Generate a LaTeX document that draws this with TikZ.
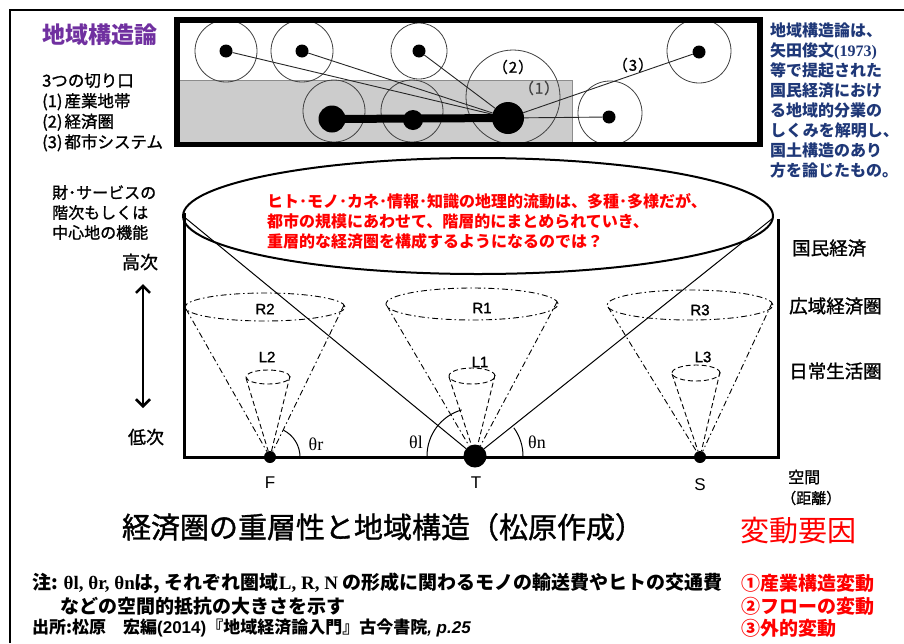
\documentclass[tikz,border=0pt]{standalone}
\usepackage{fontspec}
\setmainfont{Noto Sans CJK JP}
\newfontfamily\jpm[FakeBold=1.2]{Noto Sans CJK JP}
\newfontfamily\arialf{Liberation Sans}
\newfontfamily\arialm[FakeBold=1.5]{Liberation Sans}
\newfontfamily\tnr{Liberation Serif}
\usetikzlibrary{arrows.meta}
\definecolor{ttlpurple}{RGB}{112,48,160}
\definecolor{navyb}{RGB}{31,56,120}
\newcommand\fsz[2]{\fontsize{#1}{#2}\selectfont}
\begin{document}
\begin{tikzpicture}[x=1pt,y=-1pt,
  dot/.style={circle,fill=black,inner sep=0pt},
  ring/.style={draw=black!75,line width=0.8pt},
  link/.style={draw=black!85,line width=0.9pt},
  rcone/.style={line width=0.9pt,dash pattern=on 6pt off 3pt on 1.5pt off 3pt},
  lcone/.style={line width=0.9pt,dash pattern=on 5pt off 3pt},
  txt/.style={inner sep=0pt},
  lab/.style={inner sep=0pt,font=\arialm\fsz{15}{15}},
  ptlab/.style={inner sep=0pt,font=\arialf\fsz{17}{17}},
  ang/.style={inner sep=0pt,font=\tnr\fsz{18}{18}},
  rlab/.style={inner sep=0pt,anchor=west,font=\jpm\fsz{18.5}{18.5}}]
\useasboundingbox (0,0) rectangle (904,643);
\fill[white] (0,0) rectangle (904,643);
% outer frame
\draw[line width=2.5pt] (10,643) -- (10,10) -- (904,10);

% ---------- top box ----------
\fill[black!20] (180,80) rectangle (572,142);
\draw[black!45,line width=0.6pt] (180,80) -- (572,80) -- (572,142);
\draw[ring] (226,51) circle[radius=31pt];
\draw[ring] (302,51) circle[radius=31pt];
\draw[ring] (419,51) circle[radius=28pt];
\draw[ring] (334,111) circle[radius=31pt];
\draw[ring] (412,111) circle[radius=31pt];
\draw[ring] (513,97) circle[radius=47pt];
\draw[ring] (610,113) circle[radius=32pt];
\draw[ring] (699,51) circle[radius=32pt];
\node[dot,minimum size=13pt] (c1) at (226,51) {};
\node[dot,minimum size=13pt] (c2) at (302,51) {};
\node[dot,minimum size=13pt] (c3) at (419,51) {};
\node[dot,minimum size=32pt] (big) at (508,118) {};
\node[dot,minimum size=27pt] (m1) at (332,119) {};
\node[dot,minimum size=20pt] (m2) at (413,120) {};
\node[dot,minimum size=13pt] (d1) at (609,117) {};
\node[dot,minimum size=13pt] (d2) at (699,52) {};
\draw[link] (c1) -- (big);
\draw[link] (c2) -- (big);
\draw[link] (c3) -- (big);
\draw[link] (big) -- (d1);
\draw[link] (big) -- (d2);
\draw[line width=8pt] (m1.center) -- (big.center);
\draw[line width=5.5pt] (177,20) rectangle (760,144.5);
\node[txt,font=\jpm\fsz{15}{15}] (n2) at (513,67) {（\kern1pt2\kern1pt）};
\node[txt,font=\jpm\fsz{15}{15},text=black!75] (n1) at (539,88) {（\kern1pt1\kern1pt）};
\node[txt,font=\jpm\fsz{15}{15}] (n3) at (633,65) {（\kern1pt3\kern1pt）};

% title + list
\node[txt,anchor=west,font=\fsz{23}{23}\bfseries,text=ttlpurple] (ttl) at (42,35) {地域構造論};
\node[txt,anchor=north west,align=left,font=\jpm\fsz{16.5}{20.5}] (lst) at (42,73)
  {3つの切り口\\(1)\kern2pt産業地帯\\(2)\kern2pt経済圏\\(3)\kern2pt都市システム};
\node[txt,anchor=north west,align=left,font=\fsz{16}{20}\bfseries,text=navyb] (expl) at (770,23)
  {地域構造論は、\\矢田俊文{\tnr\bfseries(1973)}\\等で提起された\\国民経済におけ\\る地域的分業の\\しくみを解明し、\\国土構造のあり\\方を論じたもの。};

% ---------- cylinder ----------
\draw[line width=2pt] (478,216) ellipse[x radius=295pt,y radius=58pt];
\coordinate (eL) at (183,216);
\coordinate (eR) at (773,218);
\draw[line width=3pt] (184,213) -- (184,457) -- (778,457) -- (778,219);
\node[txt,anchor=west,align=left,font=\fsz{16}{20}\bfseries,text=red] (q) at (267,221)
  {ヒト･モノ･カネ･情報･知識の地理的流動は、多種･多様だが、\\都市の規模にあわせて、階層的にまとめられていき、\\重層的な経済圏を構成するようになるのでは？};

% points
\node[dot,minimum size=12pt] (F) at (270,457) {};
\node[dot,minimum size=23pt] (T) at (475,456) {};
\node[dot,minimum size=12pt] (S) at (700,457) {};
\draw[line width=1pt] (eL) -- (T);
\draw[line width=1pt] (eR) -- (T);

% cones R2/L2 at F
\draw[rcone] (265,307) ellipse[x radius=80pt,y radius=14pt];
\coordinate (r2a) at (186,309); \coordinate (r2b) at (344,305);
\draw[rcone] (r2a) -- (F); \draw[rcone] (r2b) -- (F);
\draw[lcone] (268,377) ellipse[x radius=22pt,y radius=7pt];
\coordinate (l2a) at (246,378); \coordinate (l2b) at (290,376);
\draw[lcone] (l2a) -- (F); \draw[lcone] (l2b) -- (F);
% cones R1/L1 at T
\draw[rcone] (472,304) ellipse[x radius=86pt,y radius=16pt];
\coordinate (r1a) at (387,306); \coordinate (r1b) at (557,302);
\draw[rcone] (r1a) -- (T); \draw[rcone] (r1b) -- (T);
\draw[lcone] (472,376) ellipse[x radius=23pt,y radius=8pt];
\coordinate (l1a) at (449,377); \coordinate (l1b) at (495,375);
\draw[lcone] (l1a) -- (T); \draw[lcone] (l1b) -- (T);
% cones R3/L3 at S
\draw[rcone] (690,305) ellipse[x radius=83pt,y radius=15pt];
\coordinate (r3a) at (608,307); \coordinate (r3b) at (772,303);
\draw[rcone] (r3a) -- (S); \draw[rcone] (r3b) -- (S);
\draw[lcone] (696,373) ellipse[x radius=24pt,y radius=8pt];
\coordinate (l3a) at (672,374); \coordinate (l3b) at (720,372);
\draw[lcone] (l3a) -- (S); \draw[lcone] (l3b) -- (S);

\node[lab] (R2) at (265,309) {R2};
\node[lab] (L2) at (267,357) {L2};
\node[lab] (R1) at (482,308) {R1};
\node[lab] (L1) at (480,362) {L1};
\node[lab] (R3) at (700,310) {R3};
\node[lab] (L3) at (703,357) {L3};
\node[ptlab] (Fl) at (270,483) {F};
\node[ptlab] (Tl) at (476,483) {T};
\node[ptlab] (Sl) at (700,485) {S};

% angles
\draw[line width=1pt] ([shift={(0:30pt)}]F.center) arc[start angle=0,end angle=63,radius=30pt];
\draw[line width=1pt] ([shift={(180:48pt)}]T.center) arc[start angle=180,end angle=106,radius=48pt];
\draw[line width=1pt] ([shift={(0:48pt)}]T.center) arc[start angle=0,end angle=36,radius=48pt];
\node[ang] (thr) at (316,444) {θr};
\node[ang] (thl) at (416,442) {θl};
\node[ang] (thn) at (537,442) {θn};

% left labels
\node[txt,anchor=north west,align=left,font=\jpm\fsz{16}{20}] (func) at (52,185)
  {財･サービスの\\階次もしくは\\中心地の機能};
\node[txt,font=\jpm\fsz{18}{18}] (hi) at (140,262) {高次};
\node[txt,font=\jpm\fsz{18}{18}] (lo) at (146,437) {低次};
\coordinate (arT) at (143,284);
\coordinate (arB) at (143,408);
\draw[line width=2.6pt,{Straight Barb[length=7pt,width=14pt]}-{Straight Barb[length=7pt,width=14pt]}] (arT) -- (arB);

% right labels
\node[rlab] (kn) at (792,248) {国民経済};
\node[rlab] (kw) at (789,306) {広域経済圏};
\node[rlab] (nj) at (789,371) {日常生活圏};
\node[txt,anchor=west,font=\jpm\fsz{16}{16}] (sp) at (788,477) {空間};
\node[txt,anchor=west,font=\jpm\fsz{15}{15}] (ds) at (781,498) {（距離）};

% bottom
\node[txt,font=\jpm\fsz{29}{29}] (main) at (383,527) {経済圏の重層性と地域構造（松原作成）};
\node[txt,font=\fsz{29}{29},text=red] (hen) at (798,531) {変動要因};
\node[txt,anchor=west,font=\fsz{19}{19}\bfseries] (note1) at (32,583)
  {注: {\tnr\bfseries θl, θr, θn}は, それぞれ圏域{\tnr\bfseries L, R, N} の形成に関わるモノの輸送費やヒトの交通費};
\node[txt,anchor=west,font=\fsz{19}{19}\bfseries] (note2) at (60,606) {などの空間的抵抗の大きさを示す};
\node[txt,anchor=west,font=\fsz{17}{17}\bfseries] (src) at (32,628)
  {出所:松原　宏編{\arialf\bfseries(2014)}『地域経済論入門』古今書院{\arialf\bfseries\itshape, p.25}};
\node[txt,anchor=west,font=\fsz{19}{19}\bfseries,text=red] (f1) at (741,583) {①産業構造変動};
\node[txt,anchor=west,font=\fsz{19}{19}\bfseries,text=red] (f2) at (741,606) {②フローの変動};
\node[txt,anchor=west,font=\fsz{19}{19}\bfseries,text=red] (f3) at (741,628) {③外的変動};
\end{tikzpicture}
\end{document}
